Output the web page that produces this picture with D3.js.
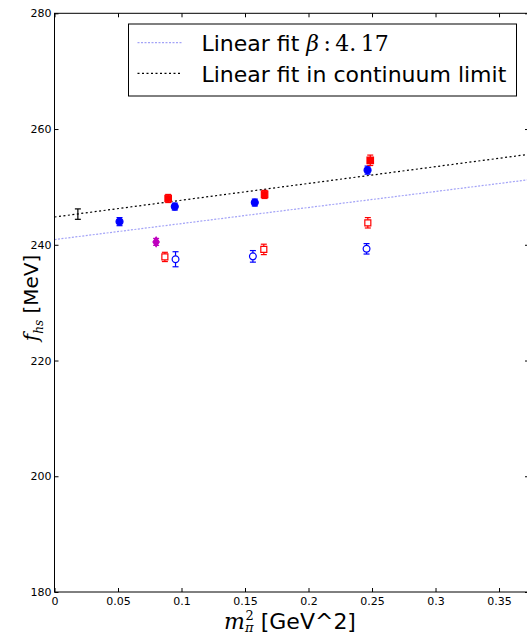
<!DOCTYPE html>
<html>
<head>
<meta charset="utf-8">
<script src="https://cdn.jsdelivr.net/npm/d3@7"></script>
<style>
  body { margin: 0; background: #fff; }
  svg { display: block; }
</style>
</head>
<body>
<div id="chart"></div>
<script>
// continuum point (errorbar only)
const contX = [0.0184];
const contY = [245.3];
const contErr = [0.9];

// filled blue circles
const blueFilledX = [0.0512, 0.0947, 0.1577, 0.2465];
const blueFilledY = [244.0, 246.6, 247.3, 252.9];
const blueFilledErr = [0.7, 0.6, 0.6, 0.7];

// filled red squares
const redFilledX = [0.0895, 0.1654, 0.2486];
const redFilledY = [248.0, 248.7, 254.6];
const redFilledErr = [0.7, 0.7, 0.9];

// magenta
const magX = [0.0800];
const magY = [240.5];
const magErr = [0.6];

// open red squares
const redOpenX = [0.0869, 0.1648, 0.2467];
const redOpenY = [237.9, 239.2, 243.8];
const redOpenErr = [0.8, 0.9, 0.9];

// open blue circles
const blueOpenX = [0.0953, 0.1562, 0.2457];
const blueOpenY = [237.5, 238.0, 239.3];
const blueOpenErr = [1.3, 1.0, 0.9];

// linear fits: [intercept, slope]
const fitBeta = [240.9, 27.7];
const fitCont = [244.8, 29.0];

const xTicks = [0, 0.05, 0.1, 0.15, 0.2, 0.25, 0.3, 0.35];
const yTicks = [180, 200, 220, 240, 260, 280];

const width = 527;
const height = 636;
const margin = { top: 13.3, right: -2, bottom: 44, left: 54.5 };

const svg = d3.select('#chart')
    .append('svg')
    .attr('width', width)
    .attr('height', height)
    .style('font-family', 'DejaVu Sans');

const x = d3.scaleLinear()
    .domain([0, 0.3736])
    .range([margin.left, width - margin.right]);

const y = d3.scaleLinear()
    .domain([180, 280])
    .range([height - margin.bottom, margin.top]);

const x0 = x.range()[0], x1 = x.range()[1];
const y0 = y.range()[0], y1 = y.range()[1];

// fit lines
const lineGen = d3.line().x(d => x(d[0])).y(d => y(d[1]));
function fitPts(f) {
    return x.domain().map(v => [v, f[0] + f[1] * v]);
}
svg.append('path')
    .attr('d', lineGen(fitPts(fitBeta)))
    .attr('fill', 'none')
    .attr('stroke', '#a3a3f7')
    .attr('stroke-width', 1.2)
    .attr('stroke-dasharray', '2,1.5');
svg.append('path')
    .attr('d', lineGen(fitPts(fitCont)))
    .attr('fill', 'none')
    .attr('stroke', '#000')
    .attr('stroke-width', 1.2)
    .attr('stroke-dasharray', '2,2.5');

// error bars
function errorbars(xs, ys, es, color) {
    const g = svg.append('g').attr('stroke', color).attr('stroke-width', 1.2);
    xs.forEach((xv, i) => {
        const cx = x(xv);
        const top = y(ys[i] + es[i]);
        const bot = y(ys[i] - es[i]);
        g.append('line').attr('x1', cx).attr('x2', cx).attr('y1', top).attr('y2', bot);
        g.append('line').attr('x1', cx - 3).attr('x2', cx + 3).attr('y1', top).attr('y2', top);
        g.append('line').attr('x1', cx - 3).attr('x2', cx + 3).attr('y1', bot).attr('y2', bot);
    });
}

errorbars(contX, contY, contErr, '#000');
errorbars(blueFilledX, blueFilledY, blueFilledErr, '#0000ff');
errorbars(redFilledX, redFilledY, redFilledErr, '#ff0000');
errorbars(magX, magY, magErr, '#bf00bf');
errorbars(redOpenX, redOpenY, redOpenErr, '#ff0000');
errorbars(blueOpenX, blueOpenY, blueOpenErr, '#0000ff');

// markers
function markers(xs, ys, symbol, size, fill, stroke) {
    svg.append('g').selectAll('path')
        .data(xs)
        .enter()
        .append('path')
        .attr('transform', (d, i) => `translate(${x(d)},${y(ys[i])})`)
        .attr('d', d3.symbol().type(symbol).size(size))
        .attr('fill', fill)
        .attr('stroke', stroke)
        .attr('stroke-width', 1.2);
}
const thinDiamond = {
    draw(ctx, size) {
        const h = Math.sqrt(size) * 0.7;
        const w = h * 0.65;
        ctx.moveTo(0, -h); ctx.lineTo(w, 0); ctx.lineTo(0, h); ctx.lineTo(-w, 0); ctx.closePath();
    }
};

markers(blueFilledX, blueFilledY, d3.symbolCircle, 38, '#0000ff', '#0000ff');
markers(redFilledX, redFilledY, d3.symbolSquare, 42, '#ff0000', '#ff0000');
markers(magX, magY, thinDiamond, 48, '#bf00bf', '#bf00bf');
markers(redOpenX, redOpenY, d3.symbolSquare, 36, '#fff', '#ff0000');
markers(blueOpenX, blueOpenY, d3.symbolCircle, 36, '#fff', '#0000ff');

// frame
svg.append('rect')
    .attr('x', x0).attr('y', y1)
    .attr('width', x1 - x0).attr('height', y0 - y1)
    .attr('fill', 'none').attr('stroke', '#000').attr('stroke-width', 1);

// axes with inward ticks
const tickLen = 4;
svg.append('g')
    .attr('transform', `translate(0, ${y0})`)
    .call(d3.axisBottom(x).tickValues(xTicks).tickSizeInner(-tickLen).tickSizeOuter(0).tickPadding(5)
        .tickFormat(d => d === 0 ? '0' : d3.format('~g')(d)))
    .call(g => g.select('.domain').remove())
    .call(g => g.selectAll('text').attr('font-size', 11).attr('font-family', 'DejaVu Sans').attr('fill', '#000'));
svg.append('g')
    .attr('transform', `translate(0, ${y1})`)
    .call(d3.axisTop(x).tickValues(xTicks).tickSizeInner(-tickLen).tickSizeOuter(0).tickFormat(''))
    .call(g => g.select('.domain').remove());
svg.append('g')
    .attr('transform', `translate(${x0}, 0)`)
    .call(d3.axisLeft(y).tickValues(yTicks).tickSizeInner(-tickLen).tickSizeOuter(0).tickPadding(3))
    .call(g => g.select('.domain').remove())
    .call(g => g.selectAll('text').attr('font-size', 11).attr('font-family', 'DejaVu Sans').attr('fill', '#000'));
svg.append('g')
    .attr('transform', `translate(${x1}, 0)`)
    .call(d3.axisRight(y).tickValues(yTicks).tickSizeInner(-tickLen).tickSizeOuter(0).tickFormat(''))
    .call(g => g.select('.domain').remove());

// axis labels
const xl = svg.append('text')
    .attr('x', 290).attr('y', 629)
    .attr('text-anchor', 'middle')
    .attr('font-size', 22);
xl.append('tspan').attr('font-family', 'DejaVu Serif').attr('font-style', 'italic').text('m');
xl.append('tspan').attr('font-family', 'DejaVu Serif').attr('font-style', 'italic').attr('font-size', 13).attr('dy', 3).text('π');
xl.append('tspan').attr('font-family', 'DejaVu Serif').attr('font-size', 13).attr('dx', -8).attr('dy', -12).text('2');
xl.append('tspan').attr('dy', 9).text(' [GeV^2]');

const yl = svg.append('text')
    .attr('transform', 'translate(38, 298) rotate(-90)')
    .attr('text-anchor', 'middle')
    .attr('font-size', 20);
yl.append('tspan').attr('font-family', 'DejaVu Serif').attr('font-style', 'italic').text('f');
yl.append('tspan').attr('font-family', 'DejaVu Serif').attr('font-style', 'italic').attr('font-size', 12).attr('dy', 5).text('hs');
yl.append('tspan').attr('dy', -5).text(' [MeV]');

// legend
const leg = svg.append('g');
leg.append('rect')
    .attr('x', 128.5).attr('y', 24)
    .attr('width', 388).attr('height', 72)
    .attr('fill', '#fff').attr('stroke', '#000').attr('stroke-width', 1);
leg.append('line')
    .attr('x1', 137.5).attr('x2', 181.5).attr('y1', 42.7).attr('y2', 42.7)
    .attr('stroke', '#a3a3f7').attr('stroke-width', 1.2).attr('stroke-dasharray', '2,1.5');
leg.append('line')
    .attr('x1', 137.5).attr('x2', 181.5).attr('y1', 73.3).attr('y2', 73.3)
    .attr('stroke', '#000').attr('stroke-width', 1.2).attr('stroke-dasharray', '2,2.5');
const t1 = leg.append('text').attr('x', 201.5).attr('y', 51).attr('font-size', 22);
t1.append('tspan').text('Linear fit ');
t1.append('tspan').attr('font-family', 'DejaVu Serif').attr('font-style', 'italic').text('β');
t1.append('tspan').attr('font-family', 'DejaVu Serif').text('\u2009:\u20094.\u200917');
leg.append('text').attr('x', 201.5).attr('y', 82).attr('font-size', 22).text('Linear fit in continuum limit');
</script>
</body>
</html>
